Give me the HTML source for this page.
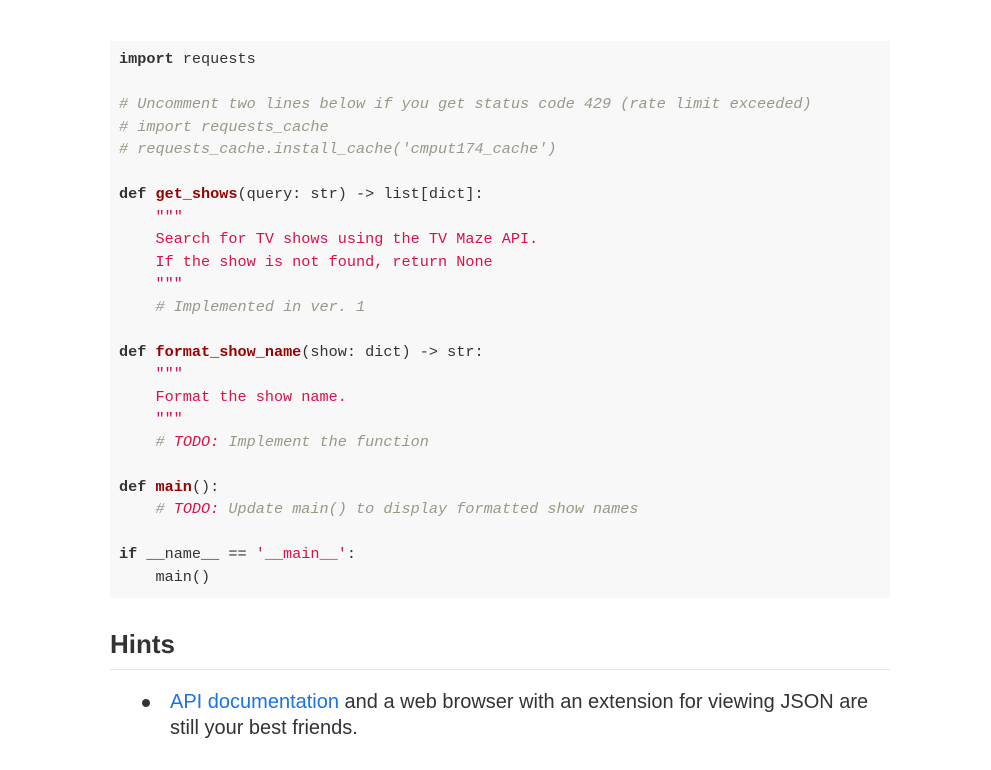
<!DOCTYPE html>
<html><head><meta charset="utf-8"><style>
html,body{margin:0;padding:0;background:#fff;width:991px;height:770px;overflow:hidden}
pre{position:absolute;left:110px;top:41px;width:780px;box-sizing:border-box;margin:0;padding:7px 9px 10px 9px;background:#f8f8f8;font-family:"Liberation Mono",monospace;font-size:15.2px;line-height:22.5px;color:#333;height:557px}
.k{font-weight:bold;color:#333}
.f{font-weight:bold;color:#990000}
.s{color:#dd1144}
.c{color:#999988;font-style:italic}
.t{color:#dd1144;font-style:italic}
h2{position:absolute;left:110px;top:626px;margin:0;width:780px;font-family:"Liberation Sans",sans-serif;font-size:26px;font-weight:bold;color:#333;line-height:36px;height:43px;border-bottom:1px solid #e5e5e5}
ul{position:absolute;left:110px;top:689px;margin:0;padding:0 0 0 60px;width:720px;font-family:"Liberation Sans",sans-serif;font-size:20px;line-height:26px;color:#333;list-style:none}
li{position:relative}
li:before{content:"";position:absolute;left:-28px;top:10px;width:8px;height:8px;border-radius:50%;background:#333}
a{color:#1a73e8;text-decoration:none}
</style></head><body>
<pre><span class="k">import</span> requests

<span class="c"># Uncomment two lines below if you get status code 429 (rate limit exceeded)</span>
<span class="c"># import requests_cache</span>
<span class="c"># requests_cache.install_cache('cmput174_cache')</span>

<span class="k">def</span> <span class="f">get_shows</span>(query: str) -&gt; list[dict]:
    <span class="s">"""</span>
<span class="s">    Search for TV shows using the TV Maze API.</span>
<span class="s">    If the show is not found, return None</span>
<span class="s">    """</span>
    <span class="c"># Implemented in ver. 1</span>

<span class="k">def</span> <span class="f">format_show_name</span>(show: dict) -&gt; str:
    <span class="s">"""</span>
<span class="s">    Format the show name.</span>
<span class="s">    """</span>
    <span class="c"># </span><span class="t">TODO:</span><span class="c"> Implement the function</span>

<span class="k">def</span> <span class="f">main</span>():
    <span class="c"># </span><span class="t">TODO:</span><span class="c"> Update main() to display formatted show names</span>

<span class="k">if</span> __name__ == <span class="s">'__main__'</span>:
    main()</pre>
<h2>Hints</h2>
<ul><li><a>API documentation</a> and a web browser with an extension for viewing JSON are still your best friends.</li></ul>
</body></html>
